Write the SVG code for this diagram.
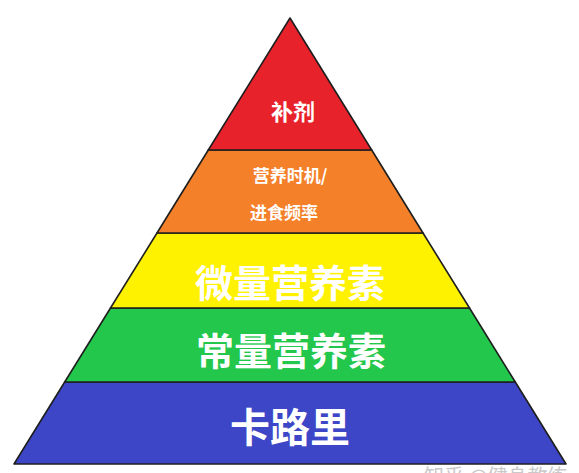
<svg xmlns="http://www.w3.org/2000/svg" width="579" height="473" viewBox="0 0 579 473">
<style>
.layer{stroke:#1e1e1e;stroke-width:1.6;stroke-linejoin:round}
.t{font-family:"Noto Sans CJK SC","Noto Sans",sans-serif;font-weight:bold;fill:#ffffff;text-anchor:middle}
.wm{font-family:"Noto Sans CJK SC","Noto Sans",sans-serif;fill:#c9c9c9;font-size:20px}
</style>
<rect width="579" height="473" fill="#ffffff"/>
<g id="layer-calories">
<polygon class="layer" points="64.7,382 515.3,382 566,464 14,464" fill="#3c46c6"/>
<text class="t" x="290" y="442" font-size="40">卡路里</text>
</g>
<g id="layer-macro">
<polygon class="layer" points="110.5,308 469.5,308 515.3,382 64.7,382" fill="#22c74b"/>
<text class="t" x="291" y="365" font-size="38">常量营养素</text>
</g>
<g id="layer-micro">
<polygon class="layer" points="157,233 423,233 469.5,308 110.5,308" fill="#fff200"/>
<text class="t" x="290" y="297" font-size="38">微量营养素</text>
</g>
<g id="layer-timing">
<polygon class="layer" points="208.3,150 371.7,150 423,233 157,233" fill="#f5802a"/>
<text class="t" x="290" y="182" font-size="17">营养时机/</text>
<text class="t" x="284" y="219" font-size="17">进食频率</text>
</g>
<g id="layer-supplements">
<polygon class="layer" points="290,18 371.7,150 208.3,150" fill="#e8222b"/>
<text class="t" x="293" y="120" font-size="22">补剂</text>
</g>
<text class="wm" x="424" y="484">知乎 @健身教练</text>
</svg>
